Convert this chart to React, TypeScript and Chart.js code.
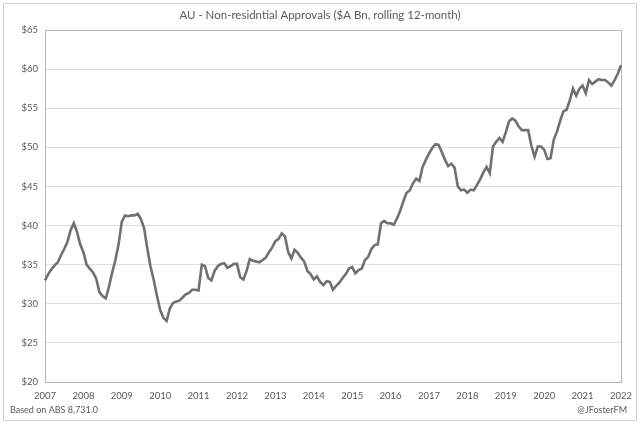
import { useEffect, useRef } from 'react';
import { Chart, registerables } from 'chart.js';

Chart.register(...registerables);

const TITLE = 'AU - Non-residntial Approvals ($A Bn, rolling 12-month)';
const SOURCE = 'Based on ABS 8,731.0';
const CREDIT = '@JFosterFM';

const years = ['2007', '2008', '2009', '2010', '2011', '2012', '2013', '2014', '2015', '2016', '2017', '2018', '2019', '2020', '2021', '2022'];

// Rolling 12-month non-residential approvals, $A Bn, monthly from Jan 2007
const approvals = [
  33.0, 33.8, 34.4, 34.9, 35.3, 36.2, 37.0, 37.9, 39.4, 40.3, 39.2, 37.6,
  36.6, 35.0, 34.5, 34.0, 33.2, 31.5, 31.0, 30.7, 32.2, 34.0, 35.6, 37.6,
  40.5, 41.3, 41.2, 41.3, 41.3, 41.5, 40.8, 39.6, 37.0, 34.7, 33.0, 31.0,
  29.2, 28.2, 27.8, 29.4, 30.1, 30.3, 30.4, 30.8, 31.2, 31.4, 31.8, 31.8,
  31.7, 35.0, 34.8, 33.3, 33.0, 34.2, 34.8, 35.1, 35.2, 34.6, 34.8, 35.1,
  35.1, 33.4, 33.1, 34.2, 35.7, 35.5, 35.4, 35.3, 35.6, 35.9, 36.6, 37.2,
  38.0, 38.3, 39.0, 38.6, 36.6, 35.8, 36.9, 36.5, 35.9, 35.4, 34.2, 33.8,
  33.1, 33.5, 32.8, 32.4, 32.9, 32.8, 31.8, 32.3, 32.7, 33.3, 33.8, 34.5,
  34.7, 33.9, 34.3, 34.5, 35.6, 36.0, 37.0, 37.5, 37.6, 40.3, 40.6, 40.3,
  40.3, 40.1, 40.9, 41.9, 43.1, 44.2, 44.5, 45.4, 46.0, 45.7, 47.5, 48.4,
  49.2, 49.9, 50.4, 50.3, 49.4, 48.4, 47.6, 47.9, 47.4, 45.0, 44.5, 44.6,
  44.2, 44.6, 44.5, 45.2, 45.9, 46.8, 47.5, 46.7, 50.1, 50.7, 51.2, 50.7,
  51.9, 53.3, 53.7, 53.4, 52.7, 52.2, 52.2, 52.2, 50.2, 48.8, 50.1, 50.1,
  49.7, 48.5, 48.6, 51.0, 52.0, 53.4, 54.6, 54.8, 56.0, 57.5, 56.6, 57.5,
  57.9, 56.9, 58.6, 58.1, 58.4, 58.7, 58.6, 58.6, 58.3, 57.9, 58.6, 59.4,
  60.5,
];

const monthLabels: string[] = [];
years.forEach((y) => {
  for (let m = 1; m <= 12; m++) monthLabels.push(`${y}-${String(m).padStart(2, '0')}`);
});
const labels = monthLabels.slice(0, approvals.length);

const TEXT = '#595959';
const FONT = 'Lato, "Open Sans", "DejaVu Sans", sans-serif';

const decorations = {
  id: 'decorations',
  beforeDraw(chart: any) {
    const { ctx, width, height } = chart;
    ctx.save();
    ctx.fillStyle = '#ffffff';
    ctx.fillRect(0, 0, width, height);
    ctx.restore();
  },
  beforeDatasetsDraw(chart: any) {
    const { ctx, chartArea } = chart;
    ctx.save();
    ctx.strokeStyle = '#b4b4b4';
    ctx.lineWidth = 1;
    ctx.strokeRect(
      Math.round(chartArea.left) + 0.5,
      Math.round(chartArea.top) + 0.5,
      Math.round(chartArea.right - chartArea.left),
      Math.round(chartArea.bottom - chartArea.top)
    );
    ctx.restore();
  },
  afterDraw(chart: any) {
    const { ctx, width } = chart;
    ctx.save();
    ctx.strokeStyle = '#d0d0d0';
    ctx.lineWidth = 1;
    ctx.strokeRect(3.5, 3.5, 633, 417);
    ctx.fillStyle = TEXT;
    ctx.textBaseline = 'middle';
    ctx.font = `11.5px ${FONT}`;
    ctx.textAlign = 'center';
    ctx.fillText(TITLE, width / 2, 15);
    ctx.font = `9px ${FONT}`;
    ctx.textAlign = 'left';
    ctx.fillText(SOURCE, 10, 410);
    ctx.textAlign = 'right';
    ctx.fillText(CREDIT, 627, 410);
    ctx.restore();
  },
};

export default function App() {
  const ref = useRef<HTMLCanvasElement>(null);

  useEffect(() => {
    const canvas = ref.current;
    if (!canvas) return;
    const chart = new Chart(canvas, {
      type: 'line',
      data: {
        labels,
        datasets: [
          {
            data: approvals,
            borderColor: '#707070',
            borderWidth: 2.6,
            pointRadius: 0,
            tension: 0,
            fill: false,
          },
        ],
      },
      options: {
        animation: false,
        responsive: false,
        maintainAspectRatio: false,
        layout: { padding: { top: 30, right: 13, bottom: 0, left: 0 } },
        plugins: {
          legend: { display: false },
          title: { display: false },
          tooltip: { enabled: false },
        },
        scales: {
          x: {
            type: 'category',
            offset: false,
            grid: { display: false, drawTicks: false },
            border: { display: false },
            afterFit(scale: any) {
              scale.height = 48;
            },
            ticks: {
              autoSkip: false,
              maxRotation: 0,
              minRotation: 0,
              padding: 8,
              color: TEXT,
              font: { family: FONT, size: 9.5 },
              callback: (_v: any, i: number) => (i % 12 === 0 ? labels[i].slice(0, 4) : ''),
            },
          },
          y: {
            min: 20,
            max: 65,
            grid: { color: '#dedede', lineWidth: 1, drawTicks: false },
            border: { display: false },
            afterFit(scale: any) {
              scale.width = 45;
            },
            ticks: {
              stepSize: 5,
              padding: 7,
              color: TEXT,
              font: { family: FONT, size: 9.5 },
              callback: (v: any) => `$${v}`,
            },
          },
        },
      },
      plugins: [decorations],
    });
    return () => chart.destroy();
  }, []);

  return (
    <div style={{ position: 'absolute', left: 0, top: 0, width: 640, height: 430 }}>
      <canvas ref={ref} width={640} height={430} style={{ display: 'block', width: 640, height: 430 }} />
    </div>
  );
}
